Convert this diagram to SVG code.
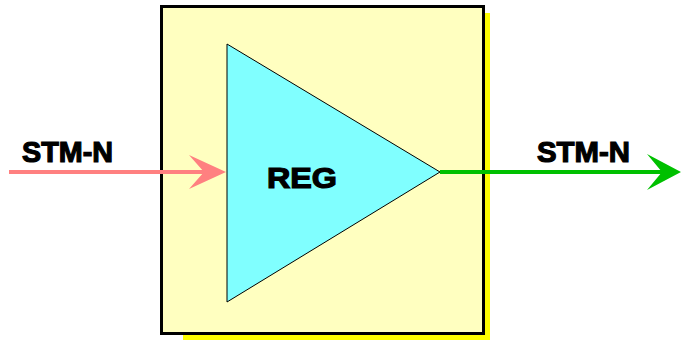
<svg xmlns="http://www.w3.org/2000/svg" width="681" height="342" viewBox="0 0 681 342">
<style>
.lbl{font-family:"Liberation Sans",Arial,sans-serif;font-weight:bold;font-size:29px;fill:#000;stroke:#000;stroke-width:1.2}
</style>
<rect width="681" height="342" fill="#fff"/>
<g id="box">
<rect x="183" y="13" width="307" height="327" fill="#ffff00"/>
<rect x="161.5" y="6.5" width="322" height="327" fill="#ffffc0" stroke="#000" stroke-width="3"/>
</g>
<g id="reg">
<polygon points="227,44 227,302 440,172" fill="#80ffff" stroke="#000" stroke-width="1"/>
<text class="lbl" x="267" y="188" textLength="70" lengthAdjust="spacingAndGlyphs">REG</text>
</g>
<g id="connectors">
<line x1="9" y1="172" x2="215" y2="172" stroke="#ff8080" stroke-width="4"/>
<polygon points="226,172 189,155 204,172 189,189" fill="#ff8080"/>
<line x1="440" y1="172" x2="670" y2="172" stroke="#00c000" stroke-width="4"/>
<polygon points="681,172 647,154 662,172 647,190" fill="#00c000"/>
</g>
<g id="labels">
<text class="lbl" x="22" y="162" textLength="91" lengthAdjust="spacingAndGlyphs">STM-N</text>
<text class="lbl" x="537" y="162" textLength="93" lengthAdjust="spacingAndGlyphs">STM-N</text>
</g>
</svg>
